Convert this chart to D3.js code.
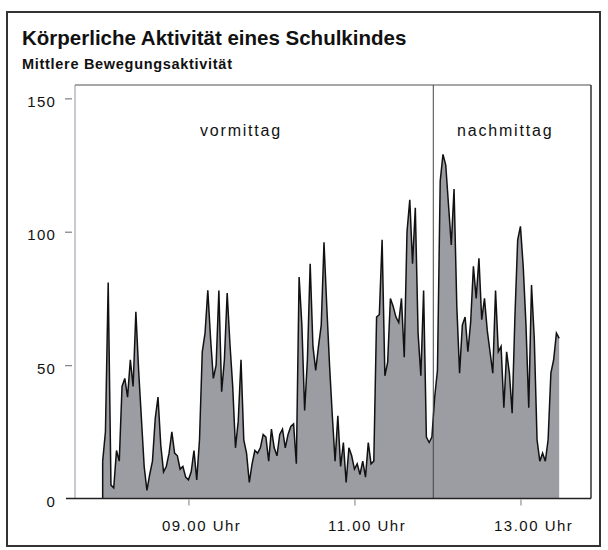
<!DOCTYPE html>
<html>
<head>
<meta charset="utf-8">
<script src="https://cdn.jsdelivr.net/npm/d3@7"></script>
<style>
  body { margin: 0; background: #fff; }
  svg { display: block; font-family: "Liberation Sans", Arial, sans-serif; }
</style>
</head>
<body>
<div id="chart"></div>
<script>
// Mittlere Bewegungsaktivität, ein Messwert alle 2 Minuten ab 07:58
const startTime = '07:58';
const stepMinutes = 2;
const activity = [
  14, 25, 81, 5, 4, 18, 14, 42, 45, 38, 52, 42, 70, 48, 30, 12, 3, 9, 14, 30,
  38, 20, 10, 12, 17, 25, 17, 16, 11, 12, 8, 7, 10, 18, 7, 22, 55, 62, 78, 60,
  45, 50, 78, 40, 52, 77, 58, 42, 19, 29, 52, 22, 17, 6, 13, 18, 17, 19, 24, 23,
  14, 26, 19, 16, 24, 26, 19, 24, 27, 28, 13, 83, 65, 33, 52, 88, 57, 48, 57, 65,
  96, 72, 50, 31, 14, 31, 12, 21, 6, 19, 16, 11, 13, 9, 14, 8, 21, 13, 14, 68,
  69, 97, 46, 51, 75, 72, 68, 66, 75, 53, 100, 112, 88, 109, 62, 46, 78, 23, 21, 23,
  38, 48, 119, 129, 125, 110, 95, 116, 72, 47, 65, 68, 55, 66, 87, 75, 90, 67, 75, 63,
  55, 47, 78, 55, 57, 34, 55, 47, 32, 68, 97, 102, 87, 65, 34, 80, 60, 22, 14, 17,
  14, 22, 47, 52, 62, 60
];
const timeDomain = ['07:38', '13:51'];
const splitTime = '11:57';
const hourTicks = ['09:00', '11:00', '13:00'];
const yTicks = [0, 50, 100, 150];
const yMax = 155;
const periods = [
  { label: 'vormittag', at: '09:38' },
  { label: 'nachmittag', at: '12:49' }
];

const width = 608, height = 550;
const mLeft = 75, mRight = 591, mTop = 85, mBottom = 498.5;

const parse = d3.timeParse('%H:%M');
const t0 = parse(startTime);
const data = activity.map((v, i) => ({
  time: d3.timeMinute.offset(t0, i * stepMinutes),
  value: v
}));

const x = d3.scaleTime()
  .domain(timeDomain.map(parse))
  .range([mLeft, mRight]);
const y = d3.scaleLinear()
  .domain([0, yMax])
  .range([mBottom, mTop]);

const svg = d3.select('#chart').append('svg')
  .attr('width', width)
  .attr('height', height);

// outer border
svg.append('rect')
  .attr('x', 7).attr('y', 12)
  .attr('width', 593).attr('height', 534)
  .attr('fill', 'none')
  .attr('stroke', '#333')
  .attr('stroke-width', 2);

svg.append('text')
  .attr('x', 22).attr('y', 45)
  .attr('font-size', 20.5)
  .attr('font-weight', 'bold')
  .attr('fill', '#111')
  .text('Körperliche Aktivität eines Schulkindes');

svg.append('text')
  .attr('x', 22).attr('y', 69)
  .attr('font-size', 14.5)
  .attr('font-weight', 'bold')
  .attr('letter-spacing', 0.7)
  .attr('fill', '#111')
  .text('Mittlere Bewegungsaktivität');

// area + line
const area = d3.area()
  .x(d => x(d.time))
  .y0(y(0))
  .y1(d => y(d.value));
const line = d3.line()
  .x(d => x(d.time))
  .y(d => y(d.value));

svg.append('path')
  .datum(data)
  .attr('d', area)
  .attr('fill', '#9c9da3');

// left edge of the area drawn in black like the reference
svg.append('line')
  .attr('x1', x(data[0].time)).attr('x2', x(data[0].time))
  .attr('y1', y(0)).attr('y2', y(data[0].value))
  .attr('stroke', '#111').attr('stroke-width', 1.5);

svg.append('path')
  .datum(data)
  .attr('d', line)
  .attr('fill', 'none')
  .attr('stroke', '#111')
  .attr('stroke-width', 1.5);

// frame
svg.append('line')
  .attr('x1', mLeft).attr('x2', mLeft)
  .attr('y1', mTop).attr('y2', mBottom)
  .attr('stroke', '#b4b8c0').attr('stroke-width', 1.5);
svg.append('line')
  .attr('x1', mLeft).attr('x2', mRight)
  .attr('y1', mTop).attr('y2', mTop)
  .attr('stroke', '#8a8a8a').attr('stroke-width', 1.5);
svg.append('line')
  .attr('x1', mRight).attr('x2', mRight)
  .attr('y1', mTop).attr('y2', mBottom)
  .attr('stroke', '#333').attr('stroke-width', 1.5);
svg.append('line')
  .attr('x1', x(parse(splitTime))).attr('x2', x(parse(splitTime)))
  .attr('y1', mTop).attr('y2', mBottom)
  .attr('stroke', '#444').attr('stroke-width', 1);
svg.append('line')
  .attr('x1', 66).attr('x2', mRight)
  .attr('y1', y(0)).attr('y2', y(0))
  .attr('stroke', '#222').attr('stroke-width', 1.6);

// y axis
const yAxis = svg.append('g')
  .attr('transform', `translate(${mLeft - 3},0)`)
  .call(d3.axisLeft(y).tickValues(yTicks).tickSize(7).tickPadding(9));
yAxis.select('.domain').remove();
yAxis.selectAll('.tick line')
  .attr('stroke', '#888')
  .attr('stroke-width', 1.3)
  .filter(d => d === 0).remove();
yAxis.selectAll('.tick text')
  .attr('font-size', 15)
  .attr('letter-spacing', 1.2)
  .attr('fill', '#111')
  .attr('dy', '0.55em')
  .attr('font-family', '"Liberation Sans", Arial, sans-serif');

// x axis
const xAxis = svg.append('g')
  .attr('transform', `translate(0,${mBottom + 1})`)
  .call(d3.axisBottom(x)
    .tickValues(hourTicks.map(parse))
    .tickSize(6)
    .tickFormat(d3.timeFormat('%H.%M Uhr')));
xAxis.select('.domain').remove();
xAxis.selectAll('.tick line')
  .attr('stroke', '#999')
  .attr('stroke-width', 1.3);
xAxis.selectAll('.tick text')
  .attr('text-anchor', 'start')
  .attr('x', -27)
  .attr('y', 21)
  .attr('font-size', 15)
  .attr('letter-spacing', 1.5)
  .attr('fill', '#111')
  .attr('font-family', '"Liberation Sans", Arial, sans-serif');

// period labels
svg.selectAll('.period')
  .data(periods)
  .enter().append('text')
  .attr('class', 'period')
  .attr('x', d => x(parse(d.at)))
  .attr('y', 136)
  .attr('text-anchor', 'middle')
  .attr('font-size', 16)
  .attr('letter-spacing', 1.8)
  .attr('fill', '#111')
  .text(d => d.label);
</script>
</body>
</html>
